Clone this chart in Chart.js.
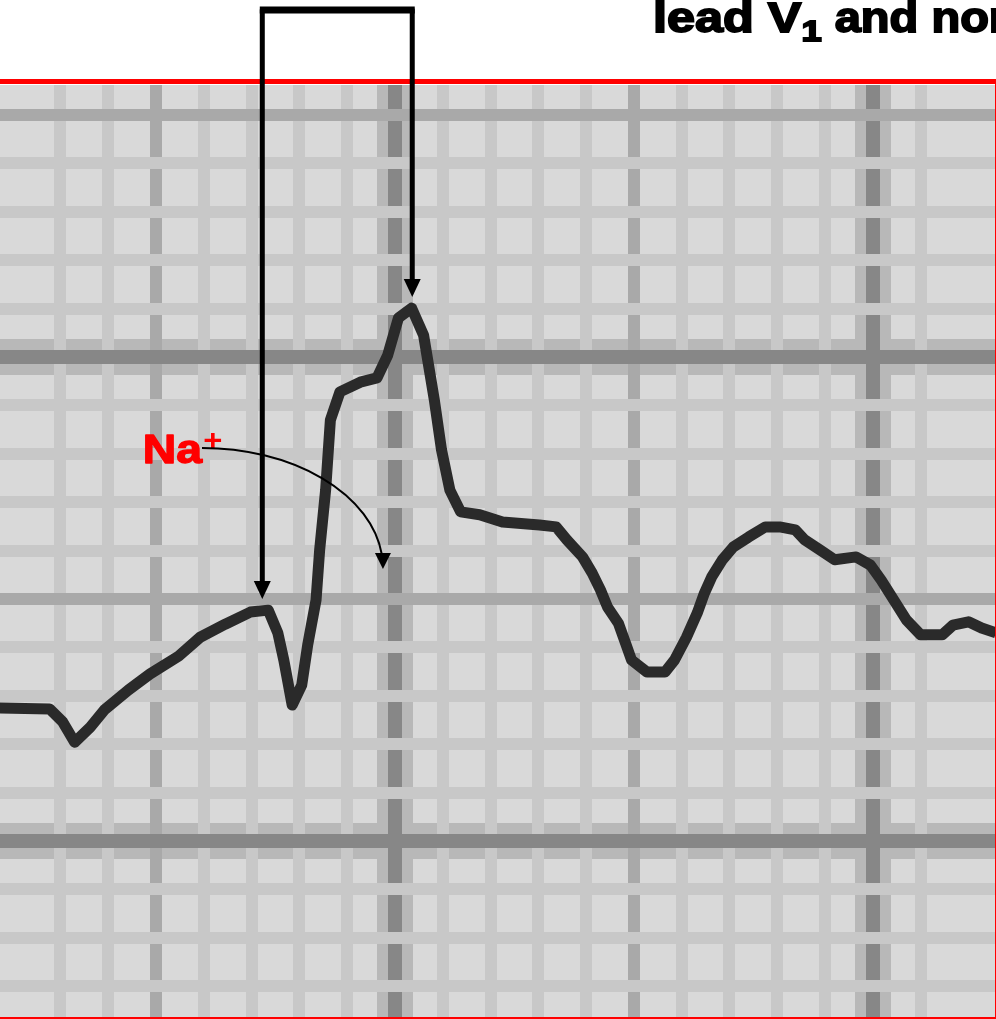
<!DOCTYPE html>
<html>
<head>
<meta charset="utf-8">
<script src="https://cdn.jsdelivr.net/npm/chart.js@4.4.0/dist/chart.umd.min.js"></script>
<style>
html,body{margin:0;padding:0;background:#fff;overflow:hidden}
#c{display:block}
</style>
</head>
<body>
<canvas id="c" width="996" height="1019"></canvas>
<script>
// ---- Data (time in ms, amplitude in mV; 1 small square = 40 ms x 0.1 mV) ----
const timeMs = [69,111,122,132,145,157,177,195,219,237,258,279,294,302,307,314,322,327,334,337,342,346,354,371,385,394,403,414,424,433,439,446,455,471,490,521,535,544,557,565,572,578,587,593,598,611,626,634,644,653,659,665,674,683,696,710,722,735,743,756,768,786,798,807,816,828,840,858,867,880,891,903];
const amplitudeMv = [-0.725,-0.727,-0.754,-0.796,-0.765,-0.729,-0.688,-0.655,-0.618,-0.579,-0.552,-0.527,-0.523,-0.570,-0.626,-0.719,-0.678,-0.595,-0.502,-0.399,-0.275,-0.130,-0.072,-0.052,-0.043,0.004,0.081,0.101,0.045,-0.089,-0.192,-0.275,-0.320,-0.326,-0.341,-0.347,-0.351,-0.378,-0.413,-0.446,-0.481,-0.517,-0.550,-0.591,-0.626,-0.651,-0.651,-0.626,-0.579,-0.529,-0.488,-0.455,-0.419,-0.393,-0.372,-0.351,-0.351,-0.357,-0.378,-0.399,-0.419,-0.413,-0.430,-0.461,-0.496,-0.543,-0.574,-0.574,-0.554,-0.547,-0.560,-0.570];
const timeRange = [69.5, 902.2];
const ampRange = [-1.3636, 0.562];
const timeStep = 40;   // small square
const ampStep = 0.1;   // small square
const titleParts = ['lead V', '1', ' and normal'];
const ionLabel = ['Na', '+'];
// annotation anchors in data units
const onsetArrow = {t: 289, v: -0.50};
const peakArrow = {t: 414.5, v: 0.124};
const ionAnchor = {t: 189, v: -0.219};
const ionArrowEnd = {t: 390, v: -0.436};

// ---- Styles ----
const PAPER = '#d9d9d9';
const LIGHT = '#c8c8c8';
const MED = '#a9a9a9';
const DARK = '#878787';
const HALO = '#b8b8b8';
const NONE = 'rgba(0,0,0,0)';
const FONT = '"Liberation Sans", Arial, sans-serif';

function gridKind(value, step) {
  const k = Math.round(value / step);
  if (Math.abs(value / step - k) > 0.01) return 0;
  if (k % 10 === 0) return 3;
  if (k % 5 === 0) return 2;
  return 1;
}
function mainGrid(step) {
  return {
    drawTicks: false,
    color: c => [NONE, LIGHT, MED, DARK][gridKind(c.tick.value, step)],
    lineWidth: c => [0, 12, 12, 14][gridKind(c.tick.value, step)]
  };
}
function haloGrid(step) {
  return {
    drawTicks: false, z: -2,
    color: c => gridKind(c.tick.value, step) === 3 ? HALO : NONE,
    lineWidth: c => gridKind(c.tick.value, step) === 3 ? 36 : 0
  };
}
function axis(pos, range, step, grid) {
  return {
    type: 'linear', position: pos, min: range[0], max: range[1],
    ticks: {display: false, stepSize: step, maxTicksLimit: 1000, autoSkip: false},
    border: {display: false}, grid: grid
  };
}

function arrowDown(ctx, x, yTip, halfW, h) {
  ctx.beginPath();
  ctx.moveTo(x, yTip);
  ctx.lineTo(x - halfW, yTip - h);
  ctx.lineTo(x + halfW, yTip - h);
  ctx.closePath();
  ctx.fill();
}

const decor = {
  id: 'decor',
  beforeDraw(chart) {
    const {ctx, chartArea: a} = chart;
    ctx.save();
    ctx.fillStyle = '#fff';
    ctx.fillRect(0, 0, chart.width, chart.height);
    ctx.fillStyle = PAPER;
    ctx.fillRect(a.left, a.top, a.right - a.left, a.bottom - a.top);
    ctx.restore();
  },
  afterDraw(chart) {
    const {ctx, chartArea: a} = chart;
    const xs = chart.scales.x, ys = chart.scales.y;
    ctx.save();
    // red frame lines
    ctx.fillStyle = '#ff0000';
    ctx.fillRect(0, a.top - 6, chart.width, 5);
    ctx.fillRect(0, a.bottom, chart.width, 3);
    ctx.fillRect(a.right, a.top - 6, 2, a.bottom - a.top + 9);

    // bracket with two down arrows
    const xL = xs.getPixelForValue(onsetArrow.t), yL = ys.getPixelForValue(onsetArrow.v);
    const xR = xs.getPixelForValue(peakArrow.t), yR = ys.getPixelForValue(peakArrow.v);
    const topY = 10, headH = 18, headW = 8.5;
    ctx.strokeStyle = '#000'; ctx.fillStyle = '#000';
    ctx.lineWidth = 5; ctx.lineJoin = 'round';
    ctx.beginPath();
    ctx.moveTo(xL, yL - headH + 2);
    ctx.lineTo(xL, topY);
    ctx.lineTo(xR, topY);
    ctx.lineTo(xR, yR - headH + 2);
    ctx.stroke();
    ctx.fillRect(xL - 2.5, topY - 3.5, xR - xL + 5, 7);
    arrowDown(ctx, xL, yL, headW, headH);
    arrowDown(ctx, xR, yR, headW, headH);

    // Na+ label
    const nx = xs.getPixelForValue(ionAnchor.t), ny = ys.getPixelForValue(ionAnchor.v);
    ctx.fillStyle = '#ff0000'; ctx.strokeStyle = '#ff0000'; ctx.lineWidth = 1.4;
    ctx.textBaseline = 'alphabetic'; ctx.textAlign = 'left';
    ctx.save();
    ctx.translate(nx, ny); ctx.scale(1.13, 1);
    ctx.font = 'bold 41px ' + FONT;
    ctx.fillText(ionLabel[0], 0, 0); ctx.strokeText(ionLabel[0], 0, 0);
    const naW = ctx.measureText(ionLabel[0]).width;
    ctx.font = 'bold 29px ' + FONT;
    ctx.fillText(ionLabel[1], naW + 1, -13);
    ctx.restore();
    const labelRight = nx + naW * 1.13;

    // curved arrow
    const ex = xs.getPixelForValue(ionArrowEnd.t), ey = ys.getPixelForValue(ionArrowEnd.v);
    const sy = ny - 15;
    const cx = labelRight, cy = ey, rx = ex - labelRight, ry = ey - sy;
    const stopAng = -Math.asin(14 / ry);
    ctx.strokeStyle = '#000'; ctx.fillStyle = '#000'; ctx.lineWidth = 2;
    ctx.beginPath();
    ctx.ellipse(cx, cy, rx, ry, 0, -Math.PI / 2, stopAng);
    ctx.stroke();
    arrowDown(ctx, ex, ey + 1, 8, 16);

    // title (cut off at the right edge)
    ctx.fillStyle = '#000'; ctx.strokeStyle = '#000'; ctx.lineWidth = 1.8;
    ctx.lineJoin = 'miter';
    let x = 653;
    const base = 32;
    ctx.font = 'bold 42px ' + FONT;
    let w = ctx.measureText(titleParts[0]).width;
    ctx.save(); ctx.translate(x, base); ctx.scale(1.2, 1);
    ctx.fillText(titleParts[0], 0, 0); ctx.strokeText(titleParts[0], 0, 0);
    ctx.restore();
    x += w * 1.2;
    ctx.font = 'bold 29px ' + FONT;
    w = ctx.measureText(titleParts[1]).width;
    ctx.save(); ctx.translate(x, base + 9); ctx.scale(1.25, 1);
    ctx.fillText(titleParts[1], 0, 0); ctx.strokeText(titleParts[1], 0, 0);
    ctx.restore();
    x += w * 1.25;
    ctx.font = 'bold 42px ' + FONT;
    ctx.save(); ctx.translate(x, base); ctx.scale(1.12, 1);
    ctx.fillText(titleParts[2], 0, 0); ctx.strokeText(titleParts[2], 0, 0);
    ctx.restore();
    ctx.restore();
  }
};

new Chart(document.getElementById('c'), {
  type: 'line',
  data: {
    datasets: [{
      data: timeMs.map((t, i) => ({x: t, y: amplitudeMv[i]})),
      borderColor: '#2a2a2a',
      borderWidth: 11,
      pointRadius: 0,
      tension: 0,
      borderJoinStyle: 'round',
      borderCapStyle: 'butt'
    }]
  },
  options: {
    responsive: false,
    animation: false,
    devicePixelRatio: 1,
    layout: {padding: {top: 85, bottom: 2, left: 0, right: 1}},
    plugins: {legend: {display: false}, tooltip: {enabled: false}, title: {display: false}},
    scales: {
      x: axis('bottom', timeRange, timeStep, mainGrid(timeStep)),
      y: axis('left', ampRange, ampStep, mainGrid(ampStep)),
      x2: axis('top', timeRange, timeStep, haloGrid(timeStep)),
      y2: axis('right', ampRange, ampStep, haloGrid(ampStep))
    }
  },
  plugins: [decor]
});
</script>
</body>
</html>
